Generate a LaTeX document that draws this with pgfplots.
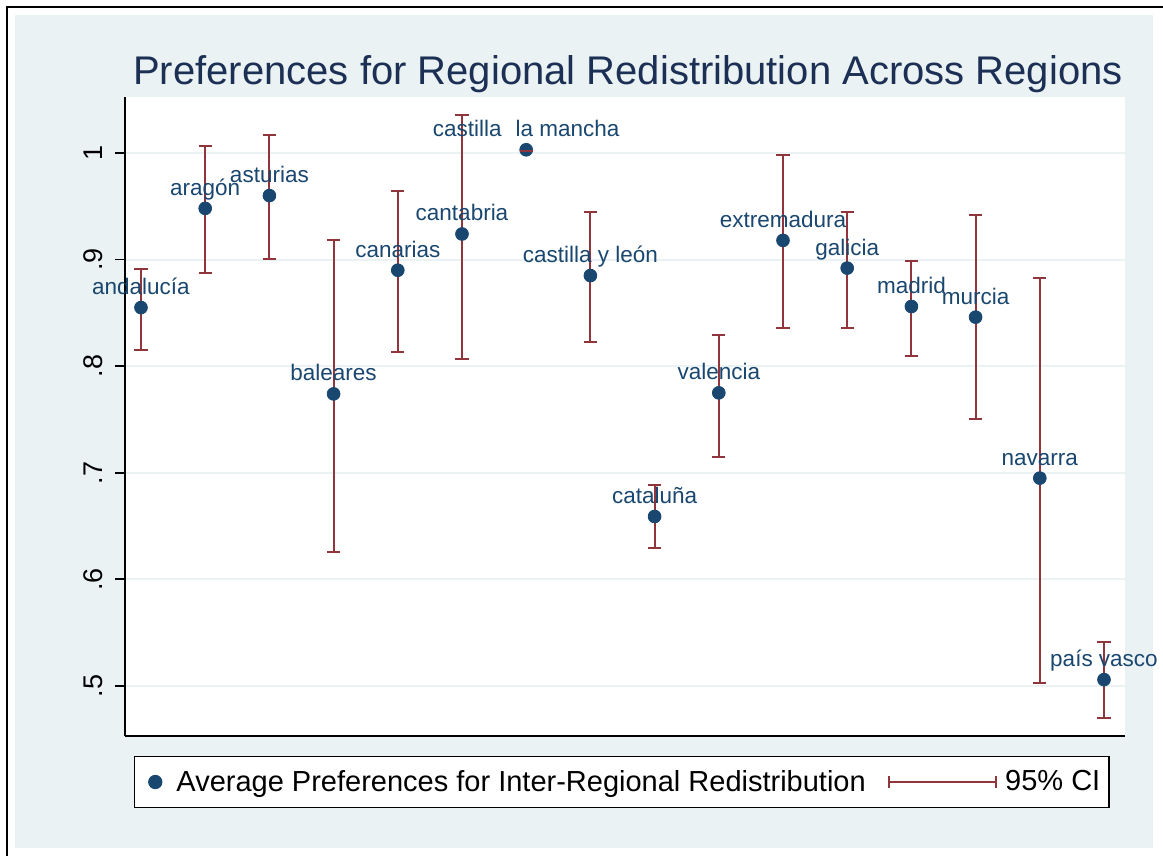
\documentclass[border=0pt]{standalone}
\usepackage{fontspec}
\setmainfont{Liberation Sans}
\usepackage{pgfplots}
\usepackage{pgfplotstable}
\pgfplotsset{compat=1.18}
\definecolor{bgblue}{HTML}{EAF2F3}
\definecolor{mnavy}{HTML}{1A476F}
\definecolor{tnavy}{HTML}{1C2F54}
\definecolor{cimaroon}{HTML}{90353B}

% region, mean and 95% CI bounds
\pgfplotstableread{
x  y     lo     hi     label
1  0.855 0.815  0.891  {andalucía}
2  0.948 0.887  1.007  {aragón}
3  0.960 0.901  1.017  {asturias}
4  0.774 0.626  0.918  {baleares}
5  0.890 0.813  0.964  {canarias}
6  0.924 0.807  1.036  {cantabria}
7  1.003 1.002  1.002  {castilla\hspace{7pt}la mancha}
8  0.885 0.823  0.945  {castilla y león}
9  0.659 0.629  0.689  {cataluña}
10 0.775 0.715  0.829  {valencia}
11 0.918 0.836  0.998  {extremadura}
12 0.892 0.836  0.945  {galicia}
13 0.856 0.810  0.899  {madrid}
14 0.846 0.750  0.942  {murcia}
15 0.695 0.503  0.883  {navarra}
16 0.506 0.470  0.541  {país vasco}
}\regions

\begin{document}
\begin{tikzpicture}
\useasboundingbox (0pt,0pt) rectangle (581.5pt,-428pt);
\fill[bgblue] (7.5pt,-7.5pt) rectangle (576.5pt,-424pt);
\draw[line width=1pt] (3.5pt,-428pt) -- (3.5pt,-3.5pt) -- (581.5pt,-3.5pt);
\begin{axis}[
    at={(62.5pt,-368pt)}, anchor=south west,
    scale only axis, width=500pt, height=319.5pt,
    xmin=0.751, xmax=16.327, ymin=0.4531, ymax=1.0525,
    axis background/.style={fill=white},
    axis x line*=bottom, axis y line*=left,
    axis line style={-, line width=0.9pt, black},
    xtick=\empty,
    ytick={0.5,0.6,0.7,0.8,0.9,1.0},
    yticklabels={.5,.6,.7,.8,.9,1},
    ymajorgrids, grid style={bgblue, line width=1pt},
    tick align=outside, major tick length=5pt,
    tick style={black, line width=0.9pt},
    yticklabel style={rotate=90, anchor=south, yshift=2.5pt, font=\fontsize{13.5}{13.5}\selectfont},
    clip=false,
    title={Preferences for Regional Redistribution Across Regions},
    title style={at={(0.503,1)}, anchor=base, yshift=0pt, inner sep=0pt,
        font=\fontsize{20}{20}\selectfont, text=tnavy},
    legend columns=2,
    legend style={at={(0.497,-0.072)}, anchor=center, draw=black, line width=0.75pt,
        fill=white, font=\fontsize{14.5}{14.5}\selectfont, inner xsep=2.45pt, inner ysep=4.8pt,
        /tikz/every even column/.append style={column sep=9.2pt}},
]
\addplot[only marks, mark=*, mark size=3.2pt, color=mnavy,
    nodes near coords, point meta=explicit symbolic,
    nodes near coords style={anchor=base, yshift=6.5pt, inner sep=0pt,
        font=\fontsize{11.25}{11.25}\selectfont, text=mnavy},
    legend image code/.code={\fill[mnavy] (0pt,0pt) circle (3.2pt); \path (-7.45pt,0pt) (8.2pt,0pt);}]
    table[x=x, y=y, meta=label] {\regions};
\addlegendentry{Average Preferences for Inter-Regional Redistribution}
\addplot[draw=none, mark=none,
    legend image code/.code={\draw[cimaroon, line width=1pt] (0pt,-3.2pt) -- (0pt,3.2pt)
        (0pt,0pt) -- (53.5pt,0pt) (53.5pt,-3.2pt) -- (53.5pt,3.2pt); \path (56pt,0pt);},
    error bars/.cd, y dir=both, y explicit,
    error bar style={draw=cimaroon, line width=1pt},
    error mark options={draw=cimaroon, rotate=90, line width=1pt, mark size=3.3pt}]
    table[x=x, y=y, y error plus expr=\thisrow{hi}-\thisrow{y},
          y error minus expr=\thisrow{y}-\thisrow{lo}] {\regions};
\addlegendentry{95\% CI}
% zero-width interval (castilla la mancha): its cap lies on top of the marker
\addplot[forget plot, only marks, mark=-, mark size=3.3pt, color=cimaroon,
    mark options={line width=1pt}]
    coordinates {(7,1.002)};
\end{axis}
\end{tikzpicture}
\end{document}
